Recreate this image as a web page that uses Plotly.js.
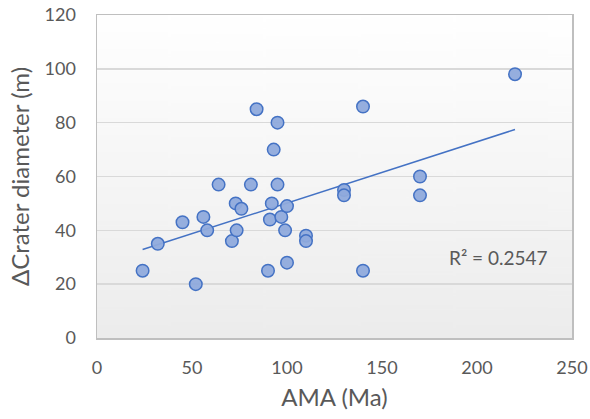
<!DOCTYPE html>
<html>
<head>
<meta charset="utf-8">
<script src="https://cdn.plot.ly/plotly-3.0.1.min.js"></script>
<style>html,body{margin:0;padding:0;background:#fff;}#chart{width:590px;height:419px;}</style>
</head>
<body>
<div id="chart"></div>
<script>
// AMA (Ma)
const ama = [24, 32, 45, 52, 56, 58, 64, 71, 73.5, 73, 76, 81, 84, 90, 91, 92, 93, 95, 95, 97, 99, 100, 100, 110, 110, 130, 130, 140, 140, 170, 170, 220];
// ΔCrater diameter (m)
const dCrater = [25, 35, 43, 20, 45, 40, 57, 36, 40, 50, 48, 57, 85, 25, 44, 50, 70, 80, 57, 45, 40, 28, 49, 38, 36, 55, 53, 86, 25, 60, 53, 98];
const xTicks = [0, 50, 100, 150, 200, 250];
const yTicks = [0, 20, 40, 60, 80, 100, 120];
const r2Label = "R² = 0.2547";

// linear least-squares fit
const n = ama.length;
const mx = ama.reduce((a, b) => a + b, 0) / n;
const my = dCrater.reduce((a, b) => a + b, 0) / n;
let sxy = 0, sxx = 0;
for (let i = 0; i < n; i++) { sxy += (ama[i] - mx) * (dCrater[i] - my); sxx += (ama[i] - mx) ** 2; }
const slope = sxy / sxx, intercept = my - slope * mx;
const xMin = Math.min(...ama), xMax = Math.max(...ama);
const fitX = [xMin, xMax];
const fitY = fitX.map(x => intercept + slope * x);

// gradient background image for plot area
const cv = document.createElement('canvas');
cv.width = 10; cv.height = 300;
const ctx = cv.getContext('2d');
const g = ctx.createLinearGradient(0, 0, 0, 300);
g.addColorStop(0, '#ffffff');
g.addColorStop(1, '#ececec');
ctx.fillStyle = g; ctx.fillRect(0, 0, 10, 300);
const bg = cv.toDataURL('image/png');

const font = 'Lato, "Open Sans", sans-serif';
const traces = [
  { x: fitX, y: fitY, mode: 'lines', type: 'scatter', line: { color: '#4472C4', width: 1.5 }, hoverinfo: 'skip' },
  { x: ama, y: dCrater, mode: 'markers', type: 'scatter',
    marker: { size: 12.5, color: 'rgba(143,170,220,0.95)', line: { color: '#4472C4', width: 1.5 } } }
];
const layout = {
  width: 590, height: 419,
  margin: { l: 97, r: 18, t: 15, b: 81 },
  paper_bgcolor: '#ffffff', plot_bgcolor: 'rgba(0,0,0,0)',
  showlegend: false,
  font: { family: font, color: '#595959', size: 18 },
  images: [{ source: bg, xref: 'paper', yref: 'paper', x: 0, y: 1, sizex: 1, sizey: 1,
    sizing: 'stretch', layer: 'below', xanchor: 'left', yanchor: 'top' }],
  xaxis: {
    range: [0, 250], tickvals: xTicks, ticktext: xTicks.map(String),
    showgrid: false, zeroline: false, showline: true, mirror: true,
    linecolor: '#bfbfbf', linewidth: 1.5, ticks: '', ticklabelstandoff: 13,
    tickfont: { family: font, size: 18, color: '#595959' },
    title: { text: 'AMA (Ma)', font: { family: font, size: 24, color: '#595959' }, standoff: 12 }
  },
  yaxis: {
    range: [0, 120], tickvals: yTicks, ticktext: yTicks.map(String),
    showgrid: true, gridcolor: '#d9d9d9', gridwidth: 1.5, zeroline: false,
    showline: true, mirror: true, linecolor: '#bfbfbf', linewidth: 1.5, ticks: '', ticklabelstandoff: 16,
    tickfont: { family: font, size: 18, color: '#595959' },
    title: { text: 'ΔCrater diameter (m)', font: { family: font, size: 24, color: '#595959' }, standoff: 8 }
  },
  annotations: [{ x: 184, y: 30, xref: 'x', yref: 'y', text: r2Label, showarrow: false,
    xanchor: 'left', yanchor: 'middle', font: { family: font, size: 19, color: '#595959' } }]
};
Plotly.newPlot('chart', traces, layout, { staticPlot: true, displayModeBar: false });
</script>
</body>
</html>
